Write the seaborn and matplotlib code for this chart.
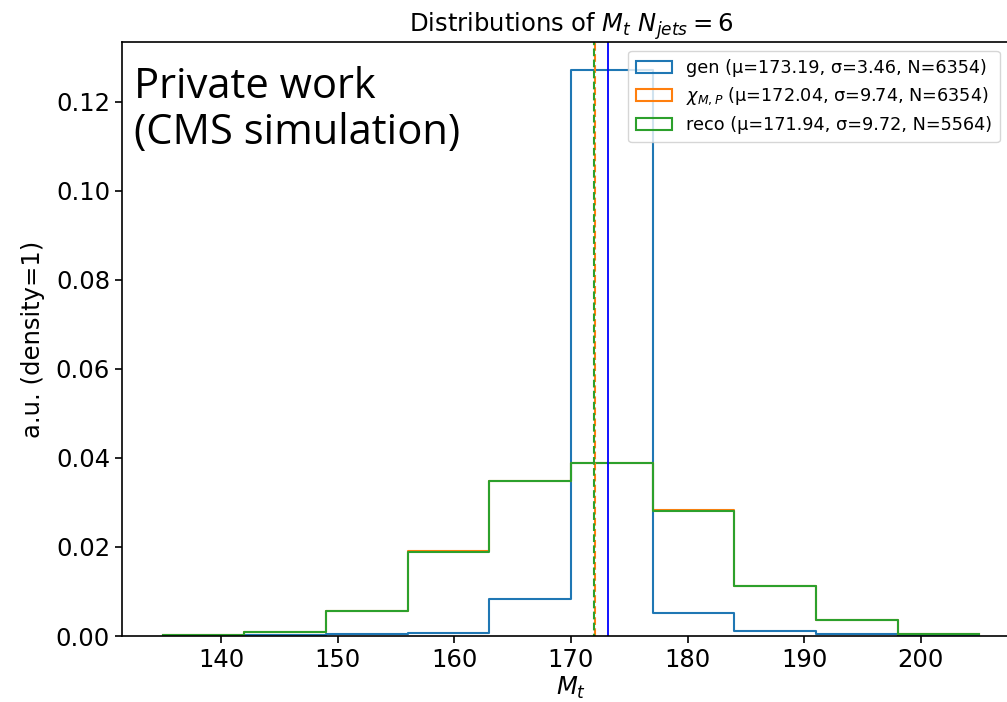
import numpy as np
import matplotlib
matplotlib.use("Agg")
import matplotlib.pyplot as plt
from matplotlib.patches import Patch
import seaborn as sns

# =====================================
# Data (density=1 histograms, bin width 7)
# =====================================
bin_edges = [135, 142, 149, 156, 163, 170, 177, 184, 191, 198, 205]

gen_heights = [0.0001, 0.0002, 0.0005, 0.0007, 0.0082, 0.1270, 0.0051, 0.0011, 0.0004, 0.0001]
chi_heights = [0.0002, 0.0010, 0.0057, 0.0190, 0.0347, 0.0389, 0.0283, 0.0112, 0.0037, 0.0004]
reco_heights = [0.0002, 0.0010, 0.0057, 0.0188, 0.0347, 0.0389, 0.0280, 0.0112, 0.0035, 0.0004]

gen_mean, chi_mean, reco_mean = 173.19, 172.04, 171.94

series_labels = [
    "gen (μ=173.19, σ=3.46, N=6354)",
    r"$\chi_{M,P}$ (μ=172.04, σ=9.74, N=6354)",
    "reco (μ=171.94, σ=9.72, N=5564)",
]

# keep plain matplotlib look (black text, no grid)
plt.rcParams["font.family"] = ["DejaVu Sans"]

fig = plt.figure(figsize=(10.07, 7.02), dpi=100)
ax = fig.add_axes([0.121, 0.094, 0.892, 0.846])

centers = [(a + b) / 2 for a, b in zip(bin_edges[:-1], bin_edges[1:])]
colors = ["#1f77b4", "#ff7f0e", "#2ca02c"]

for heights, color in zip([gen_heights, chi_heights, reco_heights], colors):
    sns.histplot(
        x=centers,
        weights=heights,
        bins=bin_edges,
        element="step",
        fill=False,
        color=color,
        linewidth=1.5,
        ax=ax,
    )

ax.axvline(gen_mean, color="blue", linewidth=1.3)
ax.axvline(chi_mean, color=colors[1], linestyle=(0, (3.7, 1.6)), linewidth=1.5)
ax.axvline(reco_mean, color=colors[2], linestyle=(2.6, (3.7, 1.6)), linewidth=1.5)

ax.set_ylim(0, None)
ax.set_xlabel("$M_t$", fontsize=17.5, labelpad=2)
ax.set_ylabel("a.u. (density=1)", fontsize=17.5, labelpad=8)
ax.set_title("Distributions of $M_t$ $N_{jets} = 6$", fontsize=17.5, pad=5)
ax.tick_params(labelsize=17.5, width=1.2, length=5)
for s in ax.spines.values():
    s.set_linewidth(1.2)

# step histograms show as empty boxes in the legend
handles = [Patch(facecolor="none", edgecolor=c, linewidth=1.5) for c in colors]
ax.legend(handles, series_labels, loc="upper right", fontsize=12.7,
          bbox_to_anchor=(0.987, 1.0), handlelength=2.0, borderpad=0.45,
          labelspacing=0.5)

ax.text(0.013, 0.96, "Private work\n(CMS simulation)", transform=ax.transAxes,
        fontsize=30, family="Open Sans", va="top", ha="left", linespacing=1.12)

plt.savefig("out.png", dpi=100)
plt.close()
